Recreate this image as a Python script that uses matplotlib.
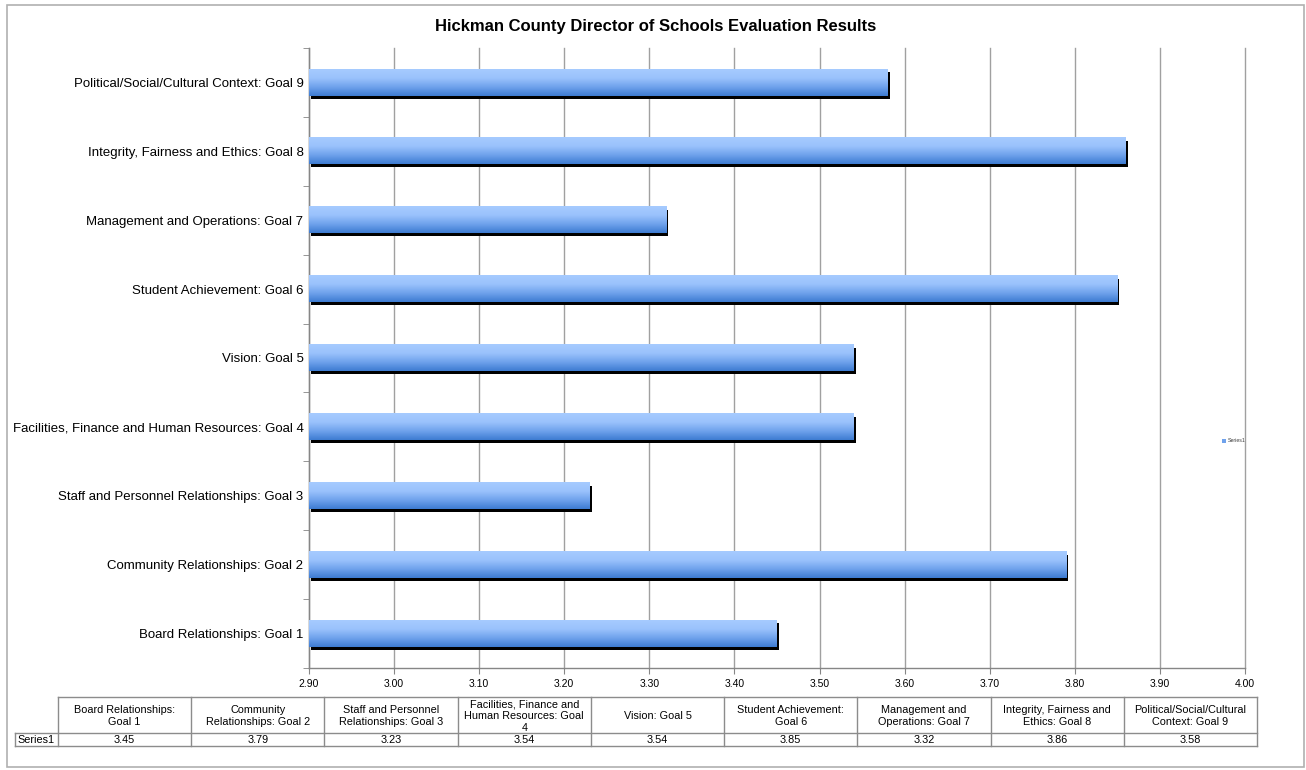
import numpy as np
import matplotlib
matplotlib.use("Agg")
import matplotlib.pyplot as plt
import matplotlib.transforms as mtransforms
from matplotlib.colors import LinearSegmentedColormap
from matplotlib.patches import Rectangle
from matplotlib.lines import Line2D

# ---------------- data ----------------
title = "Hickman County Director of Schools Evaluation Results"
categories = [
    "Board Relationships: Goal 1",
    "Community Relationships: Goal 2",
    "Staff and Personnel Relationships: Goal 3",
    "Facilities, Finance and Human Resources: Goal 4",
    "Vision: Goal 5",
    "Student Achievement: Goal 6",
    "Management and Operations: Goal 7",
    "Integrity, Fairness and Ethics: Goal 8",
    "Political/Social/Cultural Context: Goal 9",
]
values = [3.45, 3.79, 3.23, 3.54, 3.54, 3.85, 3.32, 3.86, 3.58]
table_headers = [
    "Board Relationships:\nGoal 1",
    "Community\nRelationships: Goal 2",
    "Staff and Personnel\nRelationships: Goal 3",
    "Facilities, Finance and\nHuman Resources: Goal\n4",
    "Vision: Goal 5",
    "Student Achievement:\nGoal 6",
    "Management and\nOperations: Goal 7",
    "Integrity, Fairness and\nEthics: Goal 8",
    "Political/Social/Cultural\nContext: Goal 9",
]
series_name = "Series1"
x_ticks = [2.90, 3.00, 3.10, 3.20, 3.30, 3.40, 3.50, 3.60, 3.70, 3.80, 3.90, 4.00]
x_min, x_max = 2.90, 4.00

plt.rcParams["font.family"] = ["Liberation Sans", "DejaVu Sans"]

W, H = 1306, 770
fig = plt.figure(figsize=(W / 100, H / 100), dpi=100)
fig.patch.set_facecolor("white")

# main axes (pixel layout)
ax_l, ax_r, ax_t, ax_b = 309, 1245, 48, 668
ax = fig.add_axes([ax_l / W, 1 - ax_b / H, (ax_r - ax_l) / W, (ax_b - ax_t) / H])

grid_c = "#A0A0A0"
ax.set_xlim(x_min, x_max)
ax.set_ylim(-0.5, len(categories) - 0.5)
ax.set_xticks(x_ticks)
ax.set_xticklabels([f"{t:.2f}" for t in x_ticks], fontsize=7.5)
ax.xaxis.grid(True, color=grid_c, lw=1)
ax.set_axisbelow(True)
ax.tick_params(axis="x", direction="out", length=4, color="#868686", pad=4)

ypos = np.arange(len(categories))
ax.set_yticks(ypos)
ax.set_yticklabels(categories, fontsize=9.5)
ax.set_yticks(np.arange(-0.5, len(categories), 1.0), minor=True)
ax.tick_params(axis="y", which="major", length=0, pad=4)
ax.tick_params(axis="y", which="minor", direction="out", length=4, color="#868686")
for s in ["top", "right"]:
    ax.spines[s].set_visible(False)
for s in ["left", "bottom"]:
    ax.spines[s].set_color("#868686")
    ax.spines[s].set_linewidth(1)

bar_h = 0.38
shadow_tr = mtransforms.offset_copy(ax.transData, fig=fig, x=2, y=-3, units="dots")
cmap = LinearSegmentedColormap.from_list("bargrad", ["#3E7CD2", "#6FA2EC", "#9AC2FC", "#A6CBFF"])
grad = np.linspace(0, 1, 64).reshape(-1, 1)
for y, v in zip(ypos, values):
    ax.barh(y, v - x_min, left=x_min, height=bar_h, color="black",
            transform=shadow_tr, zorder=2, clip_on=False)
    ax.imshow(grad, cmap=cmap, aspect="auto", origin="lower",
              extent=(x_min, v, y - bar_h / 2, y + bar_h / 2), zorder=3,
              interpolation="bilinear")
ax.set_xlim(x_min, x_max)
ax.set_ylim(-0.5, len(categories) - 0.5)
for gl in ax.get_xgridlines():
    gl.set_clip_on(False)

# overlay axes in pixel coordinates for title, legend, table, border
ov = fig.add_axes([0, 0, 1, 1], facecolor="none")
ov.set_xlim(0, W)
ov.set_ylim(H, 0)
ov.axis("off")

ov.add_patch(Rectangle((7, 5), 1297, 762, fill=False, edgecolor="#B0B0B0", lw=1.2))
ov.text(656, 26, title, ha="center", va="center", fontsize=12, fontweight="bold")

# legend
ov.add_patch(Rectangle((1222, 438.5), 4, 4, facecolor="#6FA2EC", edgecolor="none"))
ov.text(1227.5, 440.5, series_name, fontsize=3.8, va="center", ha="left", color="#404040")

# data table
tbl_c = "#8C8C8C"
t_left, t_first, t_right = 15, 58, 1257
t_top, t_mid, t_bot = 697, 733, 746
ncol = len(categories)
cw = (t_right - t_first) / ncol
ov.add_line(Line2D([t_first, t_right], [t_top, t_top], color=tbl_c, lw=1))
ov.add_line(Line2D([t_left, t_right], [t_mid, t_mid], color=tbl_c, lw=1))
ov.add_line(Line2D([t_left, t_right], [t_bot, t_bot], color=tbl_c, lw=1))
ov.add_line(Line2D([t_left, t_left], [t_mid, t_bot], color=tbl_c, lw=1))
for i in range(ncol + 1):
    xx = t_first + i * cw
    ov.add_line(Line2D([xx, xx], [t_top, t_bot], color=tbl_c, lw=1))
ov.text((t_left + t_first) / 2, (t_mid + t_bot) / 2 + 0.5, series_name,
        ha="center", va="center", fontsize=7.8)
for i, (hdr, v) in enumerate(zip(table_headers, values)):
    cx = t_first + (i + 0.5) * cw
    ov.text(cx, (t_top + t_mid) / 2 + 1, hdr, ha="center", va="center",
            fontsize=7.8, linespacing=1.2)
    ov.text(cx, (t_mid + t_bot) / 2 + 0.5, f"{v:.2f}", ha="center", va="center",
            fontsize=7.8)

fig.savefig("out.png", dpi=100)
